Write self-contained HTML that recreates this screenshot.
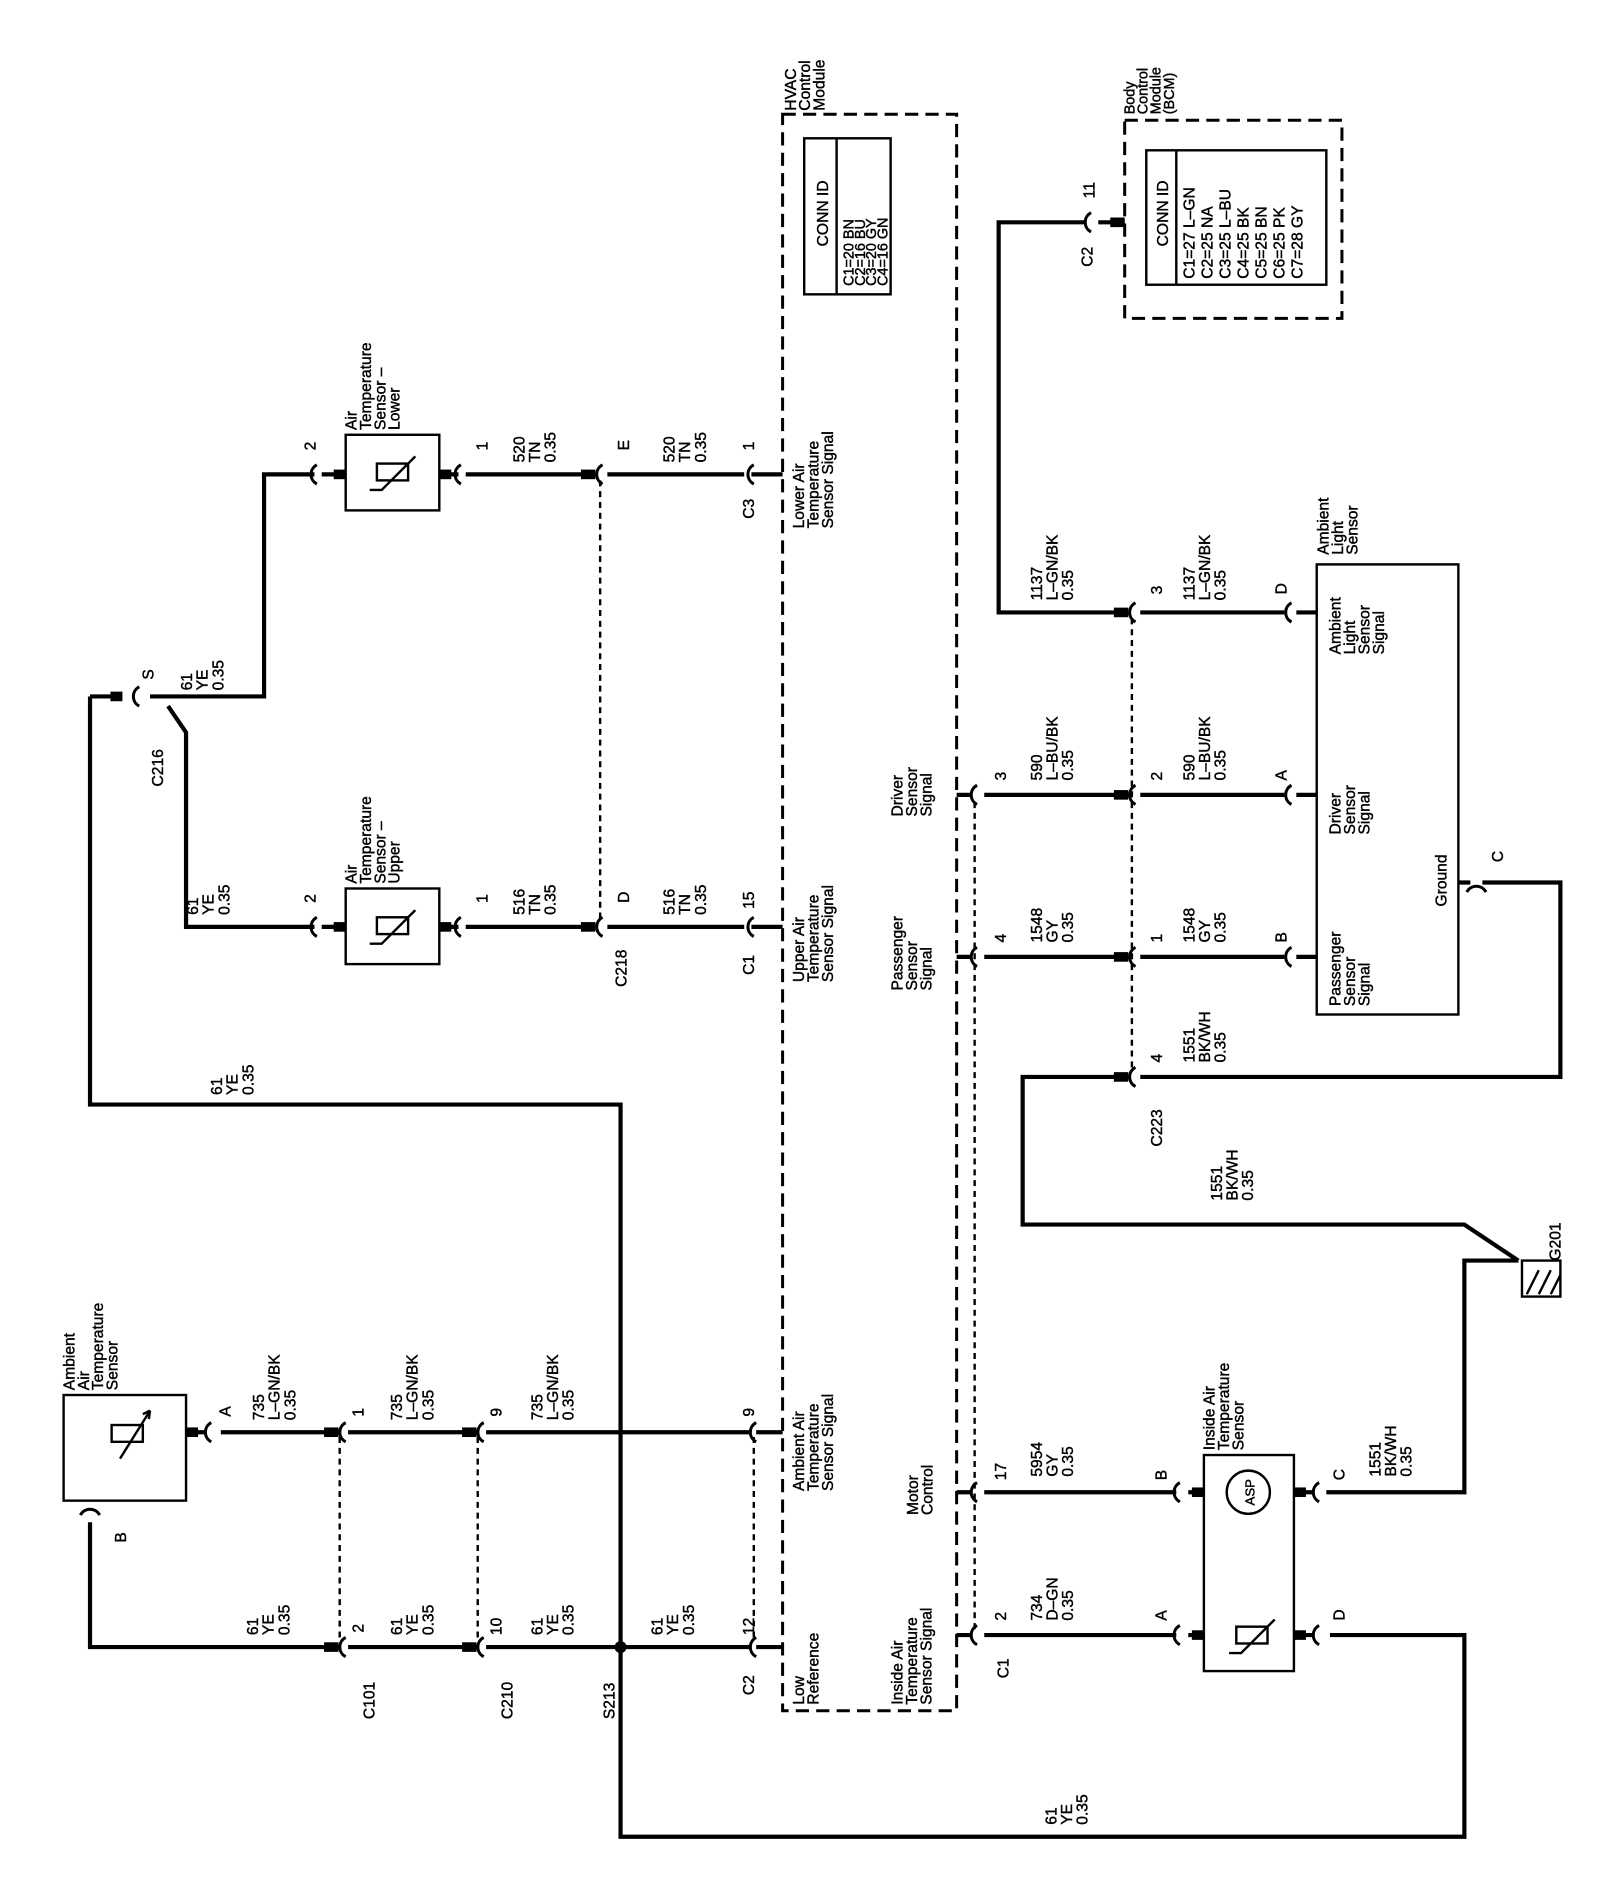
<!DOCTYPE html>
<html><head><meta charset="utf-8"><style>
html,body{margin:0;padding:0;background:#fff}
svg{display:block}
text{font-family:"Liberation Sans",sans-serif;font-size:13px;fill:#000;stroke:#000;stroke-width:0.35}
.w{stroke:#000;stroke-width:3.5;fill:none}
.b{stroke:#000;stroke-width:2;fill:none}
.d{stroke:#000;stroke-width:2.5;fill:none;stroke-dasharray:11 6}
.s{stroke:#000;stroke-width:2;fill:none;stroke-dasharray:5 4}
.c{stroke:#000;stroke-width:2.5;fill:none}
</style></head><body>
<svg width="1600" height="1885" viewBox="0 0 1333 1570" xmlns="http://www.w3.org/2000/svg">
<defs>
<path id="cn" d="M6,-8 A9 9 0 0 0 6,8" class="c"/>
</defs>
<rect x="652" y="95" width="145" height="1330" class="d"/>
<rect x="670" y="115" width="72" height="130" class="b"/>
<line x1="697" y1="115" x2="697" y2="245" class="b"/>
<rect x="937" y="100" width="181" height="165" class="d"/>
<rect x="955" y="125" width="150" height="112" class="b"/>
<line x1="980" y1="125" x2="980" y2="237" class="b"/>
<rect x="288" y="362" width="78" height="63" class="b"/>
<rect x="288" y="740" width="78" height="63" class="b"/>
<rect x="53" y="1162" width="102" height="88" class="b"/>
<rect x="1097" y="470" width="118" height="375" class="b"/>
<rect x="1003" y="1212" width="75" height="180" class="b"/>
<rect x="1268" y="1050" width="32" height="30" class="b"/>
<path d="M1272,1078 L1282,1058 M1282,1078 L1292,1058 M1292,1078 L1300,1062" class="b"/>
<g class="b"><rect x="314" y="386" width="26" height="14"/><path d="M308,408 L318,408 L346,380"/></g>
<g class="b"><rect x="314" y="764" width="26" height="14"/><path d="M308,786 L318,786 L346,758"/></g>
<g class="b"><rect x="93" y="1187" width="26" height="14"/><path d="M100,1215 L125,1175"/><path d="M125,1175 L119,1178 M125,1175 L124,1182"/></g>
<g class="b"><rect x="1030" y="1355" width="26" height="14"/><path d="M1024,1377 L1034,1377 L1062,1349"/></g>
<circle cx="1040" cy="1243" r="18" class="b"/>
<text x="1040" y="1248" text-anchor="middle" transform="rotate(-90 1040 1243)" style="font-size:11px">ASP</text>
<path class="w" d="M75,580 L100,580 M75,580 L75,920 L517,920 L517,1530 L1220,1530 L1220,1362 L1108,1362"/>
<path class="w" d="M125,580 L220,580 L220,395 L262,395"/>
<path class="w" d="M140,588 L155,610 L155,772 L262,772"/>
<path class="w" d="M268,395 L288,395 M366,395 L382,395 M388,395 L495,395 M506,395 L620,395 M626,395 L652,395"/>
<path class="w" d="M268,772 L288,772 M366,772 L382,772 M388,772 L495,772 M506,772 L620,772 M626,772 L652,772"/>
<path class="w" d="M155,1193 L172,1193 M184,1193 L280,1193 M290,1193 L395,1193 M405,1193 L625,1193 M630,1193 L652,1193"/>
<path class="w" d="M75,1268 L75,1372 L280,1372 M290,1372 L395,1372 M405,1372 L625,1372 M630,1372 L652,1372"/>
<circle cx="517" cy="1372" r="5" fill="#000"/>
<path class="w" d="M797,662 L810,662 M820,662 L940,662 M950,662 L1070,662 M1080,662 L1097,662"/>
<path class="w" d="M797,797 L810,797 M820,797 L940,797 M950,797 L1070,797 M1080,797 L1097,797"/>
<path class="w" d="M797,1243 L810,1243 M820,1243 L980,1243 M990,1243 L1003,1243 M1078,1243 L1095,1243 M1105,1243 L1220,1243 L1220,1050 L1265,1050"/>
<path class="w" d="M797,1362 L810,1362 M820,1362 L980,1362 M990,1362 L1003,1362 M1078,1362 L1095,1362"/>
<path class="w" d="M940,510 L832,510 L832,185 L905,185 M915,185 L937,185 M950,510 L1070,510 M1080,510 L1097,510"/>
<path class="w" d="M1215,735 L1225,735 M1235,735 L1300,735 L1300,897 L950,897 M940,897 L852,897 L852,1020 L1220,1020 L1265,1050"/>
<g fill="#000">
<rect x="92" y="576" width="10" height="8"/><rect x="484" y="391" width="12" height="8"/><rect x="484" y="768" width="12" height="8"/>
<rect x="270" y="1189" width="12" height="8"/><rect x="385" y="1189" width="12" height="8"/><rect x="270" y="1368" width="12" height="8"/><rect x="385" y="1368" width="12" height="8"/>
<rect x="928" y="506" width="12" height="8"/><rect x="928" y="658" width="12" height="8"/><rect x="928" y="793" width="12" height="8"/><rect x="928" y="893" width="12" height="8"/>
<rect x="366" y="391" width="10" height="8"/><rect x="366" y="768" width="10" height="8"/><rect x="278" y="391" width="10" height="8"/><rect x="278" y="768" width="10" height="8"/>
<rect x="155" y="1189" width="10" height="8"/><rect x="925" y="181" width="12" height="8"/>
<rect x="993" y="1239" width="10" height="8"/><rect x="993" y="1358" width="10" height="8"/><rect x="1078" y="1239" width="10" height="8"/><rect x="1078" y="1358" width="10" height="8"/>
</g>
<use href="#cn" x="110" y="580"/><use href="#cn" x="258" y="395"/><use href="#cn" x="378" y="395"/><use href="#cn" x="496" y="395"/><use href="#cn" x="622" y="395"/>
<use href="#cn" x="258" y="772"/><use href="#cn" x="378" y="772"/><use href="#cn" x="496" y="772"/><use href="#cn" x="622" y="772"/>
<use href="#cn" x="170" y="1193"/><use href="#cn" x="282" y="1193"/><use href="#cn" x="397" y="1193"/><use href="#cn" x="624" y="1193"/>
<use href="#cn" x="282" y="1372"/><use href="#cn" x="397" y="1372"/><use href="#cn" x="624" y="1372"/>
<path d="M67,1262 A9 9 0 0 1 83,1262" class="c"/>
<use href="#cn" x="808" y="662"/><use href="#cn" x="808" y="797"/><use href="#cn" x="808" y="1243"/><use href="#cn" x="808" y="1362"/>
<use href="#cn" x="940" y="510"/><use href="#cn" x="940" y="662"/><use href="#cn" x="940" y="797"/><use href="#cn" x="940" y="897"/>
<use href="#cn" x="1070" y="510"/><use href="#cn" x="1070" y="662"/><use href="#cn" x="1070" y="797"/>
<use href="#cn" x="977" y="1243"/><use href="#cn" x="977" y="1362"/><use href="#cn" x="1093" y="1243"/><use href="#cn" x="1093" y="1362"/>
<use href="#cn" x="903" y="185"/>
<path d="M1222,743 A9 9 0 0 1 1238,743" class="c"/>
<path class="s" d="M500,400 L500,768 M283,1197 L283,1368 M398,1197 L398,1368 M628,1197 L628,1368 M812,668 L812,1358 M943,515 L943,893"/>
<g>
<text transform="translate(160,575) rotate(-90)"><tspan x="0">61</tspan><tspan x="0" dy="13">YE</tspan><tspan x="0" dy="13">0.35</tspan></text>
<text transform="translate(437,385) rotate(-90)"><tspan x="0">520</tspan><tspan x="0" dy="13">TN</tspan><tspan x="0" dy="13">0.35</tspan></text>
<text transform="translate(562,385) rotate(-90)"><tspan x="0">520</tspan><tspan x="0" dy="13">TN</tspan><tspan x="0" dy="13">0.35</tspan></text>
<text transform="translate(437,762) rotate(-90)"><tspan x="0">516</tspan><tspan x="0" dy="13">TN</tspan><tspan x="0" dy="13">0.35</tspan></text>
<text transform="translate(562,762) rotate(-90)"><tspan x="0">516</tspan><tspan x="0" dy="13">TN</tspan><tspan x="0" dy="13">0.35</tspan></text>
<text transform="translate(165,762) rotate(-90)"><tspan x="0">61</tspan><tspan x="0" dy="13">YE</tspan><tspan x="0" dy="13">0.35</tspan></text>
<text transform="translate(185,912) rotate(-90)"><tspan x="0">61</tspan><tspan x="0" dy="13">YE</tspan><tspan x="0" dy="13">0.35</tspan></text>
<text transform="translate(220,1183) rotate(-90)"><tspan x="0">735</tspan><tspan x="0" dy="13">L–GN/BK</tspan><tspan x="0" dy="13">0.35</tspan></text>
<text transform="translate(335,1183) rotate(-90)"><tspan x="0">735</tspan><tspan x="0" dy="13">L–GN/BK</tspan><tspan x="0" dy="13">0.35</tspan></text>
<text transform="translate(452,1183) rotate(-90)"><tspan x="0">735</tspan><tspan x="0" dy="13">L–GN/BK</tspan><tspan x="0" dy="13">0.35</tspan></text>
<text transform="translate(215,1362) rotate(-90)"><tspan x="0">61</tspan><tspan x="0" dy="13">YE</tspan><tspan x="0" dy="13">0.35</tspan></text>
<text transform="translate(335,1362) rotate(-90)"><tspan x="0">61</tspan><tspan x="0" dy="13">YE</tspan><tspan x="0" dy="13">0.35</tspan></text>
<text transform="translate(452,1362) rotate(-90)"><tspan x="0">61</tspan><tspan x="0" dy="13">YE</tspan><tspan x="0" dy="13">0.35</tspan></text>
<text transform="translate(552,1362) rotate(-90)"><tspan x="0">61</tspan><tspan x="0" dy="13">YE</tspan><tspan x="0" dy="13">0.35</tspan></text>
<text transform="translate(880,1520) rotate(-90)"><tspan x="0">61</tspan><tspan x="0" dy="13">YE</tspan><tspan x="0" dy="13">0.35</tspan></text>
<text transform="translate(868,650) rotate(-90)"><tspan x="0">590</tspan><tspan x="0" dy="13">L–BU/BK</tspan><tspan x="0" dy="13">0.35</tspan></text>
<text transform="translate(995,650) rotate(-90)"><tspan x="0">590</tspan><tspan x="0" dy="13">L–BU/BK</tspan><tspan x="0" dy="13">0.35</tspan></text>
<text transform="translate(868,785) rotate(-90)"><tspan x="0">1548</tspan><tspan x="0" dy="13">GY</tspan><tspan x="0" dy="13">0.35</tspan></text>
<text transform="translate(995,785) rotate(-90)"><tspan x="0">1548</tspan><tspan x="0" dy="13">GY</tspan><tspan x="0" dy="13">0.35</tspan></text>
<text transform="translate(868,500) rotate(-90)"><tspan x="0">1137</tspan><tspan x="0" dy="13">L–GN/BK</tspan><tspan x="0" dy="13">0.35</tspan></text>
<text transform="translate(995,500) rotate(-90)"><tspan x="0">1137</tspan><tspan x="0" dy="13">L–GN/BK</tspan><tspan x="0" dy="13">0.35</tspan></text>
<text transform="translate(995,885) rotate(-90)"><tspan x="0">1551</tspan><tspan x="0" dy="13">BK/WH</tspan><tspan x="0" dy="13">0.35</tspan></text>
<text transform="translate(1018,1000) rotate(-90)"><tspan x="0">1551</tspan><tspan x="0" dy="13">BK/WH</tspan><tspan x="0" dy="13">0.35</tspan></text>
<text transform="translate(868,1230) rotate(-90)"><tspan x="0">5954</tspan><tspan x="0" dy="13">GY</tspan><tspan x="0" dy="13">0.35</tspan></text>
<text transform="translate(868,1350) rotate(-90)"><tspan x="0">734</tspan><tspan x="0" dy="13">D–GN</tspan><tspan x="0" dy="13">0.35</tspan></text>
<text transform="translate(1150,1230) rotate(-90)"><tspan x="0">1551</tspan><tspan x="0" dy="13">BK/WH</tspan><tspan x="0" dy="13">0.35</tspan></text>
<text transform="translate(128,566) rotate(-90)">S</text>
<text transform="translate(263,375) rotate(-90)">2</text>
<text transform="translate(406,375) rotate(-90)">1</text>
<text transform="translate(524,375) rotate(-90)">E</text>
<text transform="translate(628,375) rotate(-90)">1</text>
<text transform="translate(263,752) rotate(-90)">2</text>
<text transform="translate(406,752) rotate(-90)">1</text>
<text transform="translate(524,752) rotate(-90)">D</text>
<text transform="translate(628,757) rotate(-90)">15</text>
<text transform="translate(192,1180) rotate(-90)">A</text>
<text transform="translate(303,1180) rotate(-90)">1</text>
<text transform="translate(418,1180) rotate(-90)">9</text>
<text transform="translate(628,1180) rotate(-90)">9</text>
<text transform="translate(303,1360) rotate(-90)">2</text>
<text transform="translate(418,1362) rotate(-90)">10</text>
<text transform="translate(628,1362) rotate(-90)">12</text>
<text transform="translate(105,1285) rotate(-90)">B</text>
<text transform="translate(838,650) rotate(-90)">3</text>
<text transform="translate(838,785) rotate(-90)">4</text>
<text transform="translate(838,1233) rotate(-90)">17</text>
<text transform="translate(838,1350) rotate(-90)">2</text>
<text transform="translate(968,495) rotate(-90)">3</text>
<text transform="translate(968,650) rotate(-90)">2</text>
<text transform="translate(968,785) rotate(-90)">1</text>
<text transform="translate(968,885) rotate(-90)">4</text>
<text transform="translate(1072,495) rotate(-90)">D</text>
<text transform="translate(1072,650) rotate(-90)">A</text>
<text transform="translate(1072,785) rotate(-90)">B</text>
<text transform="translate(1252,718) rotate(-90)">C</text>
<text transform="translate(972,1233) rotate(-90)">B</text>
<text transform="translate(1120,1233) rotate(-90)">C</text>
<text transform="translate(972,1350) rotate(-90)">A</text>
<text transform="translate(1120,1350) rotate(-90)">D</text>
<text transform="translate(912,165) rotate(-90)">11</text>
<text transform="translate(136,655) rotate(-90)">C216</text>
<text transform="translate(628,432) rotate(-90)">C3</text>
<text transform="translate(522,822) rotate(-90)">C218</text>
<text transform="translate(628,812) rotate(-90)">C1</text>
<text transform="translate(312,1432) rotate(-90)">C101</text>
<text transform="translate(427,1432) rotate(-90)">C210</text>
<text transform="translate(512,1432) rotate(-90)">S213</text>
<text transform="translate(628,1412) rotate(-90)">C2</text>
<text transform="translate(840,1398) rotate(-90)">C1</text>
<text transform="translate(968,955) rotate(-90)">C223</text>
<text transform="translate(910,222) rotate(-90)">C2</text>
<text transform="translate(1300,1050) rotate(-90)">G201</text>
<text transform="translate(670,440) rotate(-90)"><tspan x="0">Lower Air</tspan><tspan x="0" dy="12">Temperature</tspan><tspan x="0" dy="12">Sensor Signal</tspan></text>
<text transform="translate(670,818) rotate(-90)"><tspan x="0">Upper Air</tspan><tspan x="0" dy="12">Temperature</tspan><tspan x="0" dy="12">Sensor Signal</tspan></text>
<text transform="translate(670,1242) rotate(-90)"><tspan x="0">Ambient Air</tspan><tspan x="0" dy="12">Temperature</tspan><tspan x="0" dy="12">Sensor Signal</tspan></text>
<text transform="translate(670,1420) rotate(-90)"><tspan x="0">Low</tspan><tspan x="0" dy="12">Reference</tspan></text>
<text transform="translate(752,1420) rotate(-90)"><tspan x="0">Inside Air</tspan><tspan x="0" dy="12">Temperature</tspan><tspan x="0" dy="12">Sensor Signal</tspan></text>
<text transform="translate(765,1262) rotate(-90)"><tspan x="0">Motor</tspan><tspan x="0" dy="12">Control</tspan></text>
<text transform="translate(752,825) rotate(-90)"><tspan x="0">Passenger</tspan><tspan x="0" dy="12">Sensor</tspan><tspan x="0" dy="12">Signal</tspan></text>
<text transform="translate(752,680) rotate(-90)"><tspan x="0">Driver</tspan><tspan x="0" dy="12">Sensor</tspan><tspan x="0" dy="12">Signal</tspan></text>
<text transform="translate(663,92) rotate(-90)"><tspan x="0">HVAC</tspan><tspan x="0" dy="12">Control</tspan><tspan x="0" dy="12">Module</tspan></text>
<text transform="translate(690,205) rotate(-90)">CONN ID</text>
<text transform="translate(711,238) rotate(-90)" style="font-size:12px"><tspan x="0">C1=20 BN</tspan><tspan x="0" dy="9.5">C2=16 BU</tspan><tspan x="0" dy="9.5">C3=20 GY</tspan><tspan x="0" dy="9.5">C4=16 GN</tspan></text>
<text transform="translate(945,95) rotate(-90)" style="font-size:12px"><tspan x="0">Body</tspan><tspan x="0" dy="11">Control</tspan><tspan x="0" dy="11">Module</tspan><tspan x="0" dy="11">(BCM)</tspan></text>
<text transform="translate(973,205) rotate(-90)">CONN ID</text>
<text transform="translate(995,232) rotate(-90)"><tspan x="0">C1=27 L–GN</tspan><tspan x="0" dy="15">C2=25 NA</tspan><tspan x="0" dy="15">C3=25 L–BU</tspan><tspan x="0" dy="15">C4=25 BK</tspan><tspan x="0" dy="15">C5=25 BN</tspan><tspan x="0" dy="15">C6=25 PK</tspan><tspan x="0" dy="15">C7=28 GY</tspan></text>
<text transform="translate(1107,462) rotate(-90)"><tspan x="0">Ambient</tspan><tspan x="0" dy="12">Light</tspan><tspan x="0" dy="12">Sensor</tspan></text>
<text transform="translate(1117,545) rotate(-90)"><tspan x="0">Ambient</tspan><tspan x="0" dy="12">Light</tspan><tspan x="0" dy="12">Sensor</tspan><tspan x="0" dy="12">Signal</tspan></text>
<text transform="translate(1117,695) rotate(-90)"><tspan x="0">Driver</tspan><tspan x="0" dy="12">Sensor</tspan><tspan x="0" dy="12">Signal</tspan></text>
<text transform="translate(1117,838) rotate(-90)"><tspan x="0">Passenger</tspan><tspan x="0" dy="12">Sensor</tspan><tspan x="0" dy="12">Signal</tspan></text>
<text transform="translate(1205,755) rotate(-90)">Ground</text>
<text transform="translate(297,358) rotate(-90)"><tspan x="0">Air</tspan><tspan x="0" dy="12">Temperature</tspan><tspan x="0" dy="12">Sensor –</tspan><tspan x="0" dy="12">Lower</tspan></text>
<text transform="translate(297,736) rotate(-90)"><tspan x="0">Air</tspan><tspan x="0" dy="12">Temperature</tspan><tspan x="0" dy="12">Sensor –</tspan><tspan x="0" dy="12">Upper</tspan></text>
<text transform="translate(62,1158) rotate(-90)"><tspan x="0">Ambient</tspan><tspan x="0" dy="12">Air</tspan><tspan x="0" dy="12">Temperature</tspan><tspan x="0" dy="12">Sensor</tspan></text>
<text transform="translate(1012,1208) rotate(-90)"><tspan x="0">Inside Air</tspan><tspan x="0" dy="12">Temperature</tspan><tspan x="0" dy="12">Sensor</tspan></text>
</g>
</svg>
</body></html>
